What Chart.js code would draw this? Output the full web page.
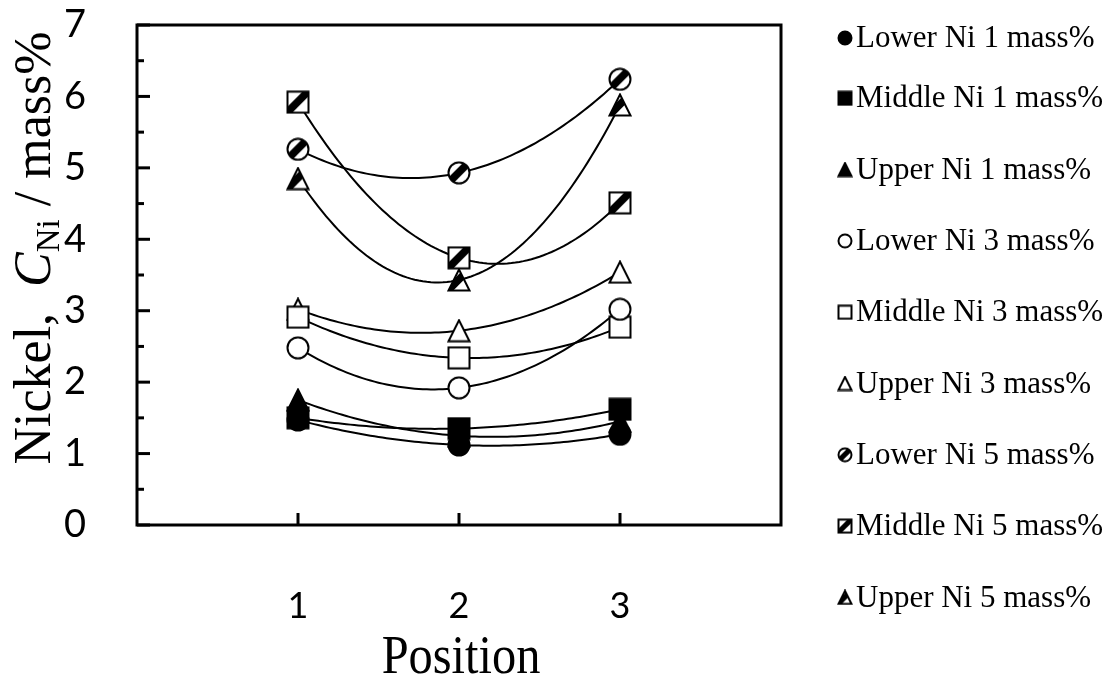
<!DOCTYPE html>
<html>
<head>
<meta charset="utf-8">
<script src="https://cdn.jsdelivr.net/npm/chart.js@4.4.0/dist/chart.umd.min.js"></script>
<style>
  html, body { margin: 0; padding: 0; background: #fff; }
  #wrap { width: 1115px; height: 675px; }
</style>
</head>
<body>
<div id="wrap"><canvas id="niChart"></canvas></div>
<script>
// positions along the sample
const positions = [1, 2, 3];

// Ni concentration (mass%) at each position
const lowerNi1 = [1.47, 1.12, 1.27];
const middleNi1 = [1.50, 1.35, 1.62];
const upperNi1 = [1.75, 1.25, 1.45];
const lowerNi3 = [2.48, 1.92, 3.02];
const middleNi3 = [2.91, 2.34, 2.77];
const upperNi3 = [3.02, 2.72, 3.54];
const lowerNi5 = [5.26, 4.93, 6.24];
const middleNi5 = [5.92, 3.74, 4.51];
const upperNi5 = [4.85, 3.43, 5.88];

const seriesLabels = [
    'Lower Ni 1 mass%', 'Middle Ni 1 mass%', 'Upper Ni 1 mass%',
    'Lower Ni 3 mass%', 'Middle Ni 3 mass%', 'Upper Ni 3 mass%',
    'Lower Ni 5 mass%', 'Middle Ni 5 mass%', 'Upper Ni 5 mass%'
];
const seriesValues = [lowerNi1, middleNi1, upperNi1, lowerNi3, middleNi3, upperNi3, lowerNi5, middleNi5, upperNi5];
const seriesShapes = ['circle', 'square', 'triangle', 'circle', 'square', 'triangle', 'circle', 'square', 'triangle'];
const seriesFills = ['solid', 'solid', 'solid', 'open', 'open', 'open', 'half', 'half', 'half'];

const xTickLabels = [1, 2, 3];
const yTickLabels = [0, 1, 2, 3, 4, 5, 6, 7];

function shapePath(ctx, shape, s, pad) {
    ctx.beginPath();
    if (shape === 'circle') {
        ctx.arc(s / 2, s / 2, s / 2 - pad, 0, Math.PI * 2);
    } else if (shape === 'square') {
        ctx.rect(pad, pad, s - 2 * pad, s - 2 * pad);
    } else {
        ctx.moveTo(s / 2, pad);
        ctx.lineTo(s - pad, s - pad);
        ctx.lineTo(pad, s - pad);
        ctx.closePath();
    }
}

function makeMarker(shape, fill, s) {
    const c = document.createElement('canvas');
    c.width = s; c.height = s;
    const ctx = c.getContext('2d');
    const pad = 1.5;
    shapePath(ctx, shape, s, pad);
    ctx.fillStyle = fill === 'solid' ? '#000' : '#fff';
    ctx.fill();
    if (fill === 'half') {
        ctx.save();
        shapePath(ctx, shape, s, pad);
        ctx.clip();
        ctx.fillStyle = '#000';
        ctx.beginPath();
        ctx.moveTo(0, s * 0.75);
        ctx.lineTo(s * 0.75, 0);
        ctx.lineTo(s, 0);
        ctx.lineTo(s, s * 0.2);
        ctx.lineTo(s * 0.2, s);
        ctx.lineTo(0, s);
        ctx.closePath();
        ctx.fill();
        ctx.restore();
    }
    shapePath(ctx, shape, s, pad);
    ctx.lineWidth = 2;
    ctx.strokeStyle = '#000';
    ctx.stroke();
    return c;
}

const bigMarkers = seriesShapes.map((sh, i) => makeMarker(sh, seriesFills[i], 24));
const smallMarkers = seriesShapes.map((sh, i) => makeMarker(sh, seriesFills[i], 16));

// second order trendline through each series, drawn via the scales
const trendPlugin = {
    id: 'trend',
    beforeDatasetsDraw(chart) {
        const ctx = chart.ctx;
        const xs = chart.scales.x, ys = chart.scales.y;
        ctx.save();
        ctx.strokeStyle = '#000';
        ctx.lineWidth = 2;
        chart.data.datasets.forEach(ds => {
            const p = ds.data;
            const [x0, x1, x2] = p.map(d => d.x);
            const [y0, y1, y2] = p.map(d => d.y);
            const f = x => y0 * (x - x1) * (x - x2) / ((x0 - x1) * (x0 - x2)) +
                y1 * (x - x0) * (x - x2) / ((x1 - x0) * (x1 - x2)) +
                y2 * (x - x0) * (x - x1) / ((x2 - x0) * (x2 - x1));
            ctx.beginPath();
            for (let k = 0; k <= 80; k++) {
                const x = x0 + (x2 - x0) * k / 80;
                const px = xs.getPixelForValue(x), py = ys.getPixelForValue(f(x));
                if (k === 0) ctx.moveTo(px, py); else ctx.lineTo(px, py);
            }
            ctx.stroke();
        });
        ctx.restore();
    },
    afterDraw(chart) {
        const ctx = chart.ctx;
        const a = chart.chartArea;
        const xs = chart.scales.x, ys = chart.scales.y;
        ctx.save();
        ctx.strokeStyle = '#000';
        ctx.lineWidth = 3;
        ctx.strokeRect(a.left, a.top, a.right - a.left, a.bottom - a.top);
        // inward tick marks
        ys.ticks.forEach(t => {
            const py = ys.getPixelForValue(t.value);
            const len = Number.isInteger(t.value) ? 13 : 7;
            ctx.beginPath();
            ctx.moveTo(a.left, py);
            ctx.lineTo(a.left + len, py);
            ctx.stroke();
        });
        xTickLabels.forEach(v => {
            const px = xs.getPixelForValue(v);
            ctx.beginPath();
            ctx.moveTo(px, a.bottom);
            ctx.lineTo(px, a.bottom - 12);
            ctx.stroke();
        });

        // axis titles
        ctx.fillStyle = '#000';
        ctx.textBaseline = 'alphabetic';
        ctx.textAlign = 'center';
        ctx.save();
        ctx.translate(461, 673);
        ctx.scale(0.88, 1);
        ctx.font = '55px "Liberation Serif"';
        ctx.fillText('Position', 0, 0);
        ctx.restore();

        const parts = [
            { t: 'Nickel,  ', f: '52px "Liberation Serif"', dy: 0 },
            { t: 'C', f: 'italic 52px "Liberation Serif"', dy: 0 },
            { t: 'Ni', f: '33px "Liberation Serif"', dy: 9 },
            { t: ' / mass%', f: '52px "Liberation Serif"', dy: 0 }
        ];
        let total = 0;
        parts.forEach(p => { ctx.font = p.f; p.w = ctx.measureText(p.t).width; total += p.w; });
        ctx.save();
        ctx.translate(50, 248);
        ctx.rotate(-Math.PI / 2);
        ctx.textAlign = 'left';
        let cx = -total / 2;
        parts.forEach(p => {
            ctx.font = p.f;
            ctx.fillText(p.t, cx, p.dy);
            cx += p.w;
        });
        ctx.restore();

        // legend
        ctx.font = '31px "Liberation Serif"';
        ctx.textAlign = 'left';
        ctx.textBaseline = 'middle';
        chart.data.datasets.forEach((ds, i) => {
            const ly = Math.max(38, 27 + i * 71.3);
            const m = smallMarkers[i];
            ctx.drawImage(m, 845 - m.width / 2, ly - m.height / 2);
            ctx.fillText(ds.label, 856, ly + 1);
        });
        ctx.restore();
    }
};

const ctx = document.getElementById('niChart').getContext('2d');
const myChart = new Chart(ctx, {
    type: 'line',
    data: {
        datasets: seriesLabels.map((label, i) => ({
            label: label,
            data: positions.map((p, j) => ({ x: p, y: seriesValues[i][j] })),
            showLine: false,
            pointStyle: bigMarkers[i],
            pointRadius: 12,
            pointHoverRadius: 12
        }))
    },
    options: {
        responsive: true,
        maintainAspectRatio: false,
        animation: false,
        layout: { padding: { left: 64, top: 25, right: 334, bottom: 0 } },
        plugins: {
            legend: { display: false },
            tooltip: { enabled: false }
        },
        scales: {
            x: {
                type: 'linear',
                min: 0,
                max: 4,
                grid: { display: false, drawTicks: false },
                border: { display: false },
                afterFit(scale) { scale.height = 150; },
                ticks: {
                    stepSize: 1,
                    autoSkip: false,
                    maxRotation: 0,
                    padding: 60,
                    color: '#000',
                    font: { family: 'Lato', size: 36 },
                    callback: v => xTickLabels.includes(v) ? String(v) : ''
                }
            },
            y: {
                min: 0,
                max: 7,
                grid: { display: false, drawTicks: false },
                border: { display: false },
                afterFit(scale) { scale.width = 73; },
                ticks: {
                    stepSize: 0.5,
                    autoSkip: false,
                    crossAlign: 'far',
                    padding: 0,
                    color: '#000',
                    font: { family: 'Lato', size: 38 },
                    callback: v => yTickLabels.includes(v) ? String(v) : ''
                }
            }
        }
    },
    plugins: [trendPlugin]
});
</script>
</body>
</html>
